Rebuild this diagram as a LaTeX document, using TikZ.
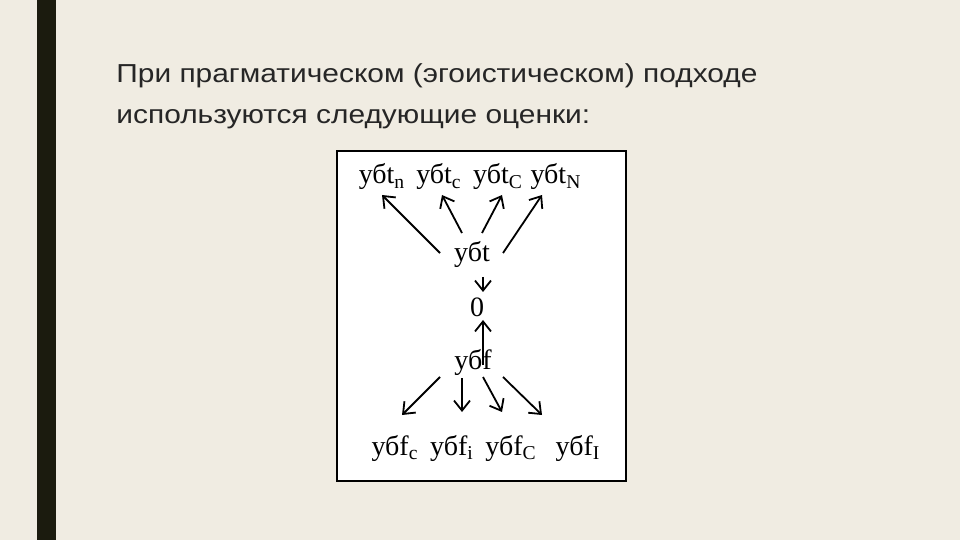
\documentclass[tikz,border=0pt]{standalone}
\usepackage{fontspec}
\setmainfont{Liberation Serif}
\newfontfamily\headfont[FakeStretch=1.15]{Liberation Sans}
\usetikzlibrary{arrows.meta,calc}
\definecolor{slidebg}{HTML}{F0ECE2}
\definecolor{slidebar}{HTML}{1B1B0E}
\begin{document}
\begin{tikzpicture}[x=0.5pt,y=-0.5pt,
  head/.style={anchor=base west, inner sep=0pt, font=\headfont\fontsize{13}{16}\selectfont, text=black!85},
  lbl/.style={inner sep=0pt, font=\fontsize{14}{16}\selectfont},
  arr/.style={line width=0.9pt, -{Straight Barb[length=5pt,width=8pt]}}]
\fill[slidebg] (0,0) rectangle (960,540);
\useasboundingbox (0,0) rectangle (960,540);
\fill[slidebar] (37,0) rectangle (56,540);
\node[head] (head1) at (116,83) {При прагматическом (эгоистическом) подходе};
\node[head] (head2) at (116,124) {используются следующие оценки:};
\draw[line width=1pt, fill=white] (337,151) rectangle (626,481);

\node[lbl] (ubtn) at (382,177) {убt\textsubscript{n}};
\node[lbl] (ubtc) at (439,177) {убt\textsubscript{c}};
\node[lbl] (ubtC) at (498,177) {убt\textsubscript{C}};
\node[lbl] (ubtN) at (556,177) {убt\textsubscript{N}};
\node[lbl] (ubt) at (472,255) {убt};
\node[lbl] (zero) at (477,307) {0};
\node[lbl] (ubf) at (473,362) {убf};
\node[lbl] (ubfc) at (395,448) {убf\textsubscript{c}};
\node[lbl] (ubfi) at (452,448) {убf\textsubscript{i}};
\node[lbl] (ubfC) at (511,448) {убf\textsubscript{C}};
\node[lbl] (ubfI) at (578,448) {убf\textsubscript{I}};

% upper fan
\draw[arr] ($(ubt)+(-32,-2)$) -- ($(ubtn)+(0,18)$);
\draw[arr] ($(ubt)+(-10,-22)$) -- ($(ubtc)+(3,18)$);
\draw[arr] ($(ubt)+(10,-22)$) -- ($(ubtC)+(4,18)$);
\draw[arr] ($(ubt)+(31,-2)$) -- ($(ubtN)+(-14,18)$);
% to zero
\draw[arr] ($(ubt)+(11,22)$) -- ($(zero)+(6,-15)$);
\draw[arr] ($(ubf)+(10,3)$) -- ($(zero)+(6,13)$);
% lower fan
\draw[arr] ($(ubf)+(-33,15)$) -- ($(ubfc)+(7,-33)$);
\draw[arr] ($(ubf)+(-11,16)$) -- ($(ubfi)+(10,-36)$);
\draw[arr] ($(ubf)+(10,15)$) -- ($(ubfC)+(-9,-36)$);
\draw[arr] ($(ubf)+(30,15)$) -- ($(ubfI)+(-36,-33)$);

\end{tikzpicture}
\end{document}
